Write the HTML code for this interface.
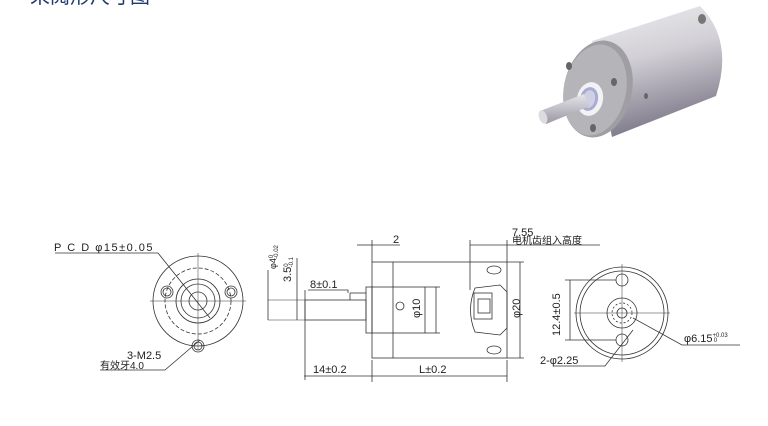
<!DOCTYPE html>
<html><head><meta charset="utf-8"><style>
html,body{margin:0;padding:0;background:#fff;}
svg{display:block;}
text{font-family:"Liberation Sans","Noto Sans CJK SC",sans-serif;fill:#222;}
</style></head><body>
<svg width="768" height="426" viewBox="0 0 768 426" xmlns="http://www.w3.org/2000/svg">
<defs>
<linearGradient id="bg" x1="0" y1="0" x2="0.25" y2="1">
<stop offset="0" stop-color="#ededf0"/><stop offset="0.45" stop-color="#d2d0d6"/><stop offset="1" stop-color="#7f7a8a"/>
</linearGradient>
<linearGradient id="sg" x1="0" y1="0" x2="0" y2="1">
<stop offset="0" stop-color="#e6e5ea"/><stop offset="1" stop-color="#9a96a3"/>
</linearGradient>
</defs>
<text x="30" y="3" font-size="20" style="fill:#1f3a6e" font-family="Noto Sans CJK SC">采阅形尺寸图</text>

<!-- 3D motor -->
<g>
<path d="M592,41 L700,6 Q734,40 716,96 L612,137 Z" fill="url(#bg)"/>
<ellipse cx="598" cy="89" rx="34" ry="49" transform="rotate(12 598 89)" fill="#9f9ea2"/>
<ellipse cx="595" cy="90" rx="31" ry="46" transform="rotate(12 595 90)" fill="#b5b4b8"/>
<ellipse cx="590" cy="99" rx="13" ry="17" transform="rotate(12 590 99)" fill="#f2f2f4"/>
<ellipse cx="589" cy="99" rx="9" ry="12" transform="rotate(12 589 99)" fill="#a9acd2"/>
<ellipse cx="589" cy="99" rx="6" ry="9" transform="rotate(12 589 99)" fill="#cfd0e4"/>
<ellipse cx="569" cy="66" rx="3" ry="4" fill="#666"/>
<ellipse cx="614" cy="82" rx="3" ry="4" fill="#666"/>
<ellipse cx="593" cy="128" rx="3" ry="4" fill="#666"/>
<ellipse cx="646" cy="96" rx="2" ry="3" fill="#666"/>
<ellipse cx="702" cy="19" rx="4" ry="5" fill="#777"/>
<path d="M540,111 L584,94 L590,106 L546,124 Z" fill="url(#sg)"/>
<ellipse cx="543" cy="117" rx="4" ry="7" transform="rotate(-20 543 117)" fill="#dcdce0"/>
</g>

<g stroke="#333" fill="none" stroke-width="0.8">
<!-- left view -->
<circle cx="198" cy="301" r="45"/>
<circle cx="198" cy="301" r="33" stroke-dasharray="4 2"/>
<circle cx="198" cy="301" r="22"/>
<circle cx="198" cy="301" r="17"/>
<circle cx="198" cy="301" r="9"/>
<circle cx="167" cy="292" r="6"/><circle cx="167" cy="292" r="4"/>
<circle cx="231" cy="292" r="6"/><circle cx="231" cy="292" r="4"/>
<circle cx="198" cy="346" r="6"/><circle cx="198" cy="346" r="4"/>
<line x1="150" y1="301" x2="246" y2="301" stroke-width="0.5"/>
<line x1="198" y1="253" x2="198" y2="350" stroke-width="0.5"/>
<polyline points="55,253 158,253 210,318"/>
<polyline points="100,370 165,370 200,340"/>

<!-- side view -->
<line x1="268" y1="300" x2="305" y2="300" stroke-width="0.6"/>
<line x1="268" y1="320" x2="305" y2="320" stroke-width="0.6"/>
<rect x="305" y="300" width="61" height="20"/>
<line x1="350" y1="293" x2="366" y2="293"/>
<line x1="350" y1="293" x2="350" y2="300"/>
<rect x="366" y="287" width="6" height="46"/>
<rect x="372" y="262" width="135" height="96"/>
<line x1="393" y1="262" x2="393" y2="358"/>
<rect x="372" y="287" width="53" height="46"/>
<circle cx="400" cy="306" r="4"/>
<path d="M475,288 L500,285 L507,292 L507,328 L500,335 L475,332 Q466,310 475,288 Z"/>
<rect x="474" y="293" width="18" height="26"/>
<rect x="478" y="299" width="12" height="14"/>
<ellipse cx="494" cy="270" rx="7" ry="4"/>
<ellipse cx="494" cy="350" rx="7" ry="4"/>
<!-- dims -->
<line x1="268" y1="270" x2="268" y2="320"/>
<line x1="297" y1="258" x2="297" y2="320"/>
<polyline points="308,290 348,290 348,293"/>
<line x1="305" y1="290" x2="305" y2="380"/>
<line x1="372" y1="360" x2="372" y2="382"/>
<line x1="507" y1="360" x2="507" y2="382"/>
<line x1="304" y1="376" x2="507" y2="376"/>
<line x1="357" y1="245" x2="372" y2="245"/>
<line x1="372" y1="240" x2="372" y2="262"/>
<line x1="372" y1="245" x2="400" y2="245"/>
<line x1="470" y1="240" x2="470" y2="290"/>
<line x1="470" y1="245" x2="507" y2="245"/>
<line x1="507" y1="240" x2="507" y2="262"/>
<line x1="507" y1="245" x2="600" y2="245"/>
<line x1="425" y1="287" x2="440" y2="287"/><line x1="425" y1="333" x2="440" y2="333"/>
<line x1="436" y1="287" x2="436" y2="333"/>
<line x1="507" y1="262" x2="524" y2="262"/><line x1="507" y1="358" x2="524" y2="358"/>
<line x1="520" y1="262" x2="520" y2="358"/>

<!-- right view -->
<circle cx="622" cy="313" r="46"/>
<circle cx="622" cy="313" r="42"/>
<circle cx="622" cy="313" r="15"/>
<circle cx="622" cy="313" r="10" stroke-dasharray="2 2"/>
<circle cx="622" cy="313" r="5"/>
<circle cx="622" cy="280" r="6"/>
<circle cx="622" cy="340" r="6"/>
<line x1="574" y1="313" x2="670" y2="313" stroke-width="0.5"/>
<line x1="622" y1="264" x2="622" y2="362" stroke-width="0.5"/>
<line x1="565" y1="280" x2="616" y2="280"/><line x1="565" y1="340" x2="616" y2="340"/>
<line x1="570" y1="280" x2="570" y2="340"/>
<polyline points="633,318 682,345 740,345"/>
<polyline points="553,366 605,366 633,330"/>
</g>

<text x="54" y="251" font-size="11" letter-spacing="1.5">P C D φ15±0.05</text>
<text x="127" y="359" font-size="11">3-M2.5</text>
<text x="100" y="369" font-size="10">有效牙4.0</text>
<text x="276" y="269" font-size="9" transform="rotate(-90 276 269)">φ4<tspan font-size="6" dy="-3">0</tspan><tspan font-size="6" dy="5" dx="-4">-0.02</tspan></text>
<text x="291" y="282" font-size="11" transform="rotate(-90 291 282)">3.5<tspan font-size="6" dy="-3">0</tspan><tspan font-size="6" dy="5" dx="-4">-0.1</tspan></text>
<text x="310" y="288" font-size="11">8±0.1</text>
<text x="313" y="373" font-size="11">14±0.2</text>
<text x="419" y="373" font-size="11">L±0.2</text>
<text x="393" y="243" font-size="11">2</text>
<text x="512" y="236" font-size="11">7.55</text>
<text x="512" y="244" font-size="10">电机齿组入高度</text>
<text x="420" y="318" font-size="11" transform="rotate(-90 420 318)">φ10</text>
<text x="520" y="318" font-size="11" transform="rotate(-90 520 318)">φ20</text>
<text x="560" y="336" font-size="11" transform="rotate(-90 560 336)">12.4±0.5</text>
<text x="684" y="342" font-size="11">φ6.15<tspan font-size="6" dy="-5">+0.03</tspan><tspan font-size="6" dy="5" dx="-14">0</tspan></text>
<text x="540" y="364" font-size="11">2-φ2.25</text>
</svg>
</body></html>
